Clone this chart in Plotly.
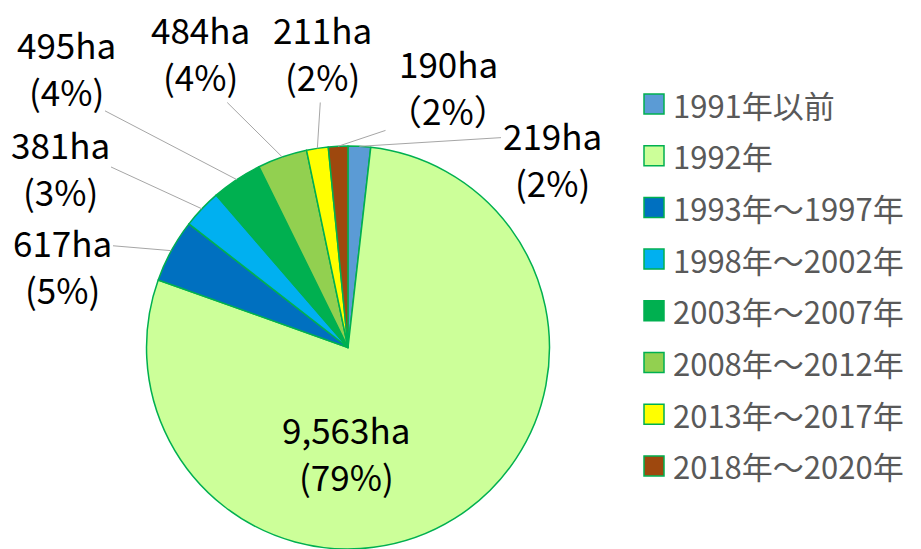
import math
import plotly.graph_objects as go

# ---- data ----
categories = ["1991年以前", "1992年", "1993年～1997年", "1998年～2002年",
              "2003年～2007年", "2008年～2012年", "2013年～2017年", "2018年～2020年"]
areas_ha = [219, 9563, 617, 381, 495, 484, 211, 190]
paren_style = ["()", "()", "()", "()", "()", "()", "()", "（）"]

# ---- styles ----
colors = ["#5B9BD5", "#CCFF99", "#0070C0", "#00B0F0",
          "#00B050", "#92D050", "#FFFF00", "#9E480E"]
outline = "#00B050"
FONT = "Noto Sans CJK JP"
W, H = 921, 549
dom_x = [0.1585, 0.5972]
dom_y = [0.0, 0.734]

# label centre positions (pixels) and which line carries the leader – layout only
label_pos = [(552, 158), (346, 452), (62, 265), (60, 167),
             (66, 67), (200, 52), (322, 52), (448, 86)]
leader_from = [0, None, 0, 0, 1, 1, 1, 1]
LINE_GAP = 47
LABEL_SIZE = 35

total = sum(areas_ha)
cx = (dom_x[0] + dom_x[1]) / 2 * W
cy = (1 - (dom_y[0] + dom_y[1]) / 2) * H
R = min((dom_x[1] - dom_x[0]) * W, (dom_y[1] - dom_y[0]) * H) / 2

fig = go.Figure(go.Pie(
    labels=categories, values=areas_ha, sort=False, direction="clockwise",
    rotation=0, textinfo="none", hoverinfo="label+value+percent",
    marker=dict(colors=colors, line=dict(color=outline, width=1.5)),
    domain=dict(x=dom_x, y=dom_y), showlegend=False,
))

annotations = []
cum = 0
for i, v in enumerate(areas_ha):
    pct = round(v / total * 100)
    p = paren_style[i]
    lines = [f"{v:,}ha", f"{p[0]}{pct}%{p[1]}"]
    theta = 2 * math.pi * (cum + v / 2) / total
    cum += v
    ex = cx + R * math.sin(theta)
    ey = cy - R * math.cos(theta)
    lx, ly = label_pos[i]
    for k, t in enumerate(lines):
        ty = ly + (k - 0.5) * LINE_GAP
        font = dict(family=FONT, size=LABEL_SIZE, color="#000000")
        if leader_from[i] == k:
            annotations.append(dict(x=ex / W, y=1 - ey / H, xref="paper", yref="paper",
                                    ax=lx - ex, ay=ty - ey, text=t, showarrow=True,
                                    arrowhead=0, arrowwidth=1, arrowcolor="#A6A6A6",
                                    standoff=0, font=font))
        else:
            annotations.append(dict(x=lx / W, y=1 - ty / H, xref="paper", yref="paper",
                                    xanchor="center", yanchor="middle",
                                    text=t, showarrow=False, font=font))

# manual legend
shapes = []
leg_x, leg_y0, leg_dy, sq = 644, 104, 51.7, 20
for i, (name, col) in enumerate(zip(categories, colors)):
    yc = leg_y0 + i * leg_dy
    shapes.append(dict(type="rect", xref="paper", yref="paper",
                       x0=leg_x / W, x1=(leg_x + sq) / W,
                       y0=1 - (yc + sq / 2) / H, y1=1 - (yc - sq / 2) / H,
                       fillcolor=col, line=dict(color=outline, width=1.5)))
    annotations.append(dict(x=(leg_x + sq + 7) / W, y=1 - yc / H, xref="paper", yref="paper",
                            xanchor="left", yanchor="middle", text=name, showarrow=False,
                            font=dict(family=FONT, size=31, color="#595959")))

fig.update_layout(width=W, height=H, margin=dict(l=0, r=0, t=0, b=0),
                  paper_bgcolor="white", plot_bgcolor="white",
                  annotations=annotations, shapes=shapes, showlegend=False)
fig.write_html("out.html", config={"displayModeBar": False},
               post_script="document.body.style.margin='0px';")
